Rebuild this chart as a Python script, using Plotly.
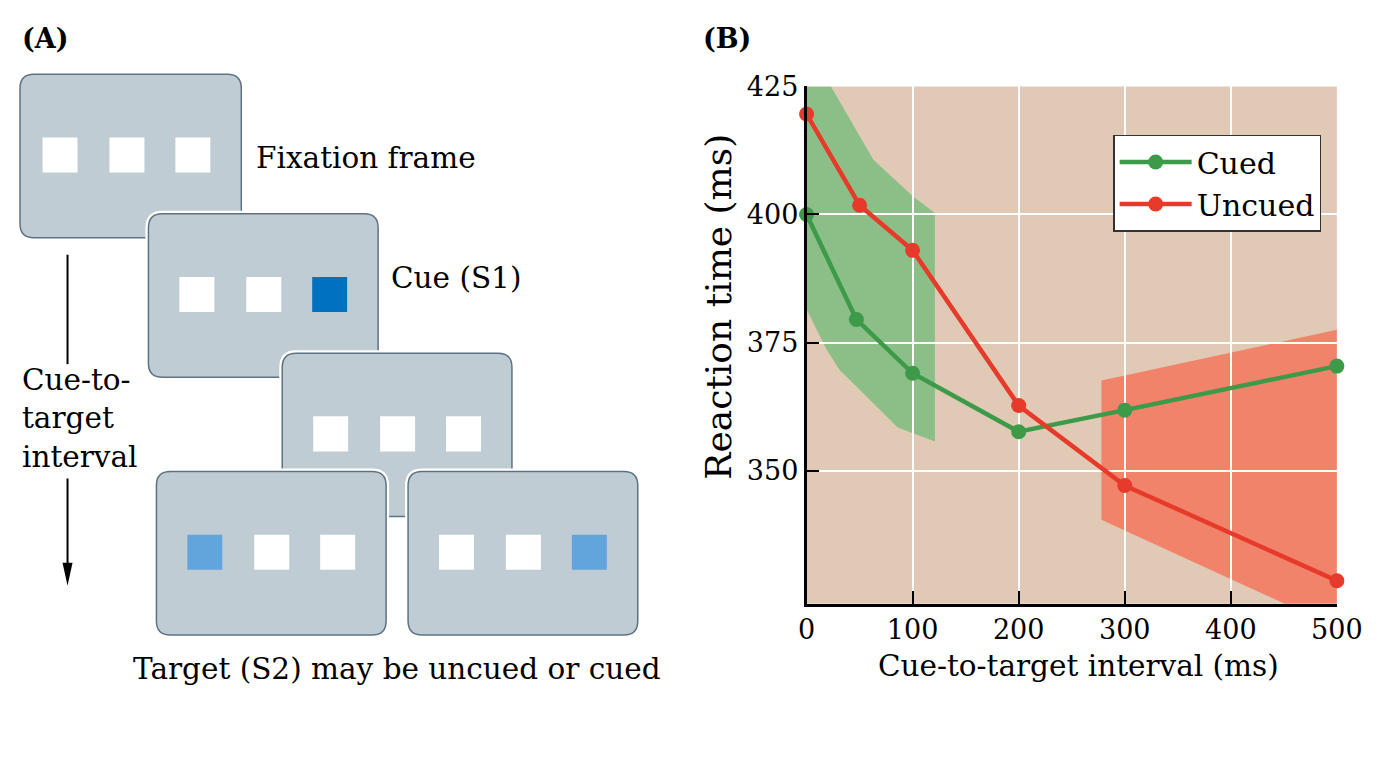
import plotly.graph_objects as go

# ---------------- data (panel B) ----------------
cued_x = [0, 47, 100, 200, 300, 500]
cued_y = [400, 379.5, 369, 357.6, 361.8, 370.4]
uncued_x = [0, 50, 100, 200, 300, 500]
uncued_y = [419.6, 401.8, 393, 362.7, 347.1, 328.5]

cued_band_x = [0, 23, 63, 100, 121, 121, 86, 31, 19, 0]
cued_band_y = [425, 425, 410.7, 403.6, 400.3, 355.7, 358.4, 369.7, 373.6, 381.5]
uncued_band_x = [278, 500, 500, 451, 300, 278]
uncued_band_y = [367.6, 377.5, 324, 324, 338.3, 340.4]

x_ticks = [0, 100, 200, 300, 400, 500]
y_ticks = [350, 375, 400, 425]

# ---------------- styles ----------------
FONT = "DejaVu Serif"
GREEN = "#3C9A48"
RED = "#E63B2B"
GREEN_FILL = "#8CBF87"
RED_FILL = "#F1836B"
TAN = "#E0CAB5"
FRAME_FILL = "#C0CCD4"
FRAME_LINE = "#5E7381"
CUE_BLUE = "#0070C0"
TARGET_BLUE = "#62A4DC"

# figure size and calibration (screen pixel -> figure pixel)
W, H = 1384, 753
AX, AY, K = 15.4, 24.8, 0.976


def fx_(v):
    return (v - AX) / K


def fy_(v):
    return (v - AY) / K


def px(v):
    return fx_(v) / W


def py(v):
    return 1 - fy_(v) / H


PLOT_RIGHT_F = 1354.1  # keep the right end of the x axis at this figure pixel

fig = go.Figure()

fig.add_trace(go.Scatter(
    x=cued_x, y=cued_y, mode="lines+markers", name="Cued",
    line=dict(color=GREEN, width=4.5), marker=dict(color=GREEN, size=15),
    cliponaxis=False))
fig.add_trace(go.Scatter(
    x=uncued_x, y=uncued_y, mode="lines+markers", name="Uncued",
    line=dict(color=RED, width=4.5), marker=dict(color=RED, size=15),
    cliponaxis=False))
# dummy trace to instantiate panel A axes
fig.add_trace(go.Scatter(x=[None], y=[None], xaxis="x2", yaxis="y2",
                         showlegend=False, hoverinfo="skip"))


def poly_path(xs, ys):
    pts = " L ".join(f"{x},{y}" for x, y in zip(xs, ys))
    return "M " + pts + " Z"


shapes = []
# plot background of panel B
shapes.append(dict(type="rect", xref="x domain", yref="y domain", layer="below",
                   x0=0, x1=1, y0=0, y1=1, fillcolor=TAN, line=dict(width=0)))
# confidence bands (below gridlines)
shapes.append(dict(type="path", xref="x", yref="y", layer="below",
                   path=poly_path(cued_band_x, cued_band_y),
                   fillcolor=GREEN_FILL, line=dict(width=0)))
shapes.append(dict(type="path", xref="x", yref="y", layer="below",
                   path=poly_path(uncued_band_x, uncued_band_y),
                   fillcolor=RED_FILL, line=dict(width=0)))


# ---------------- panel A diagram ----------------
def rr_path(x0, y0, x1, y1, r):
    return (f"M {x0+r},{y0} L {x1-r},{y0} Q {x1},{y0} {x1},{y0+r} "
            f"L {x1},{y1-r} Q {x1},{y1} {x1-r},{y1} L {x0+r},{y1} "
            f"Q {x0},{y1} {x0},{y1-r} L {x0},{y0+r} Q {x0},{y0} {x0+r},{y0} Z")


FW, FH = 230, 163
frames = [
    ((10, 75), ["white", "white", "white"]),
    ((147, 214), ["white", "white", CUE_BLUE]),
    ((281, 353), ["white", "white", "white"]),
    ((155, 471), [TARGET_BLUE, "white", "white"]),
    ((407, 471), ["white", "white", TARGET_BLUE]),
]
sq_off = [31, 98, 164]
SQ = 35
for (fx, fy), cols in frames:
    left = max(fx, AX + 3)
    p = rr_path(left, fy, fx + FW, fy + FH, 14)
    shapes.append(dict(type="path", xref="x2", yref="y2", path=p,
                       fillcolor="rgba(0,0,0,0)", line=dict(color="white", width=6)))
    shapes.append(dict(type="path", xref="x2", yref="y2", path=p,
                       fillcolor=FRAME_FILL, line=dict(color=FRAME_LINE, width=1.5)))
    for off, c in zip(sq_off, cols):
        shapes.append(dict(type="rect", xref="x2", yref="y2",
                           x0=fx + off, x1=fx + off + SQ, y0=fy + 63, y1=fy + 63 + SQ,
                           fillcolor=c, line=dict(width=0)))

# arrow
shapes.append(dict(type="line", xref="x2", yref="y2", x0=66, x1=66, y0=255, y1=364,
                   line=dict(color="black", width=2)))
shapes.append(dict(type="line", xref="x2", yref="y2", x0=66, x1=66, y0=478, y1=570,
                   line=dict(color="black", width=2)))
shapes.append(dict(type="path", xref="x2", yref="y2",
                   path="M 61,562 L 71,562 L 66,585 Z",
                   fillcolor="black", line=dict(width=0)))

txt = dict(family=FONT, size=29.5, color="black")
top_label_y = AY + K * 15
annotations = [
    dict(text="<b>(A)</b>", x=AX + 3, y=top_label_y, xref="x2", yref="y2", xanchor="left",
         yanchor="middle", showarrow=False, font=dict(family=FONT, size=27, color="black")),
    dict(text="<b>(B)</b>", x=px(700), y=py(top_label_y), xref="paper", yref="paper",
         xanchor="left", yanchor="middle", showarrow=False,
         font=dict(family=FONT, size=27, color="black")),
    dict(text="Fixation frame", x=253, y=158, xref="x2", yref="y2", xanchor="left",
         yanchor="middle", showarrow=False, font=txt),
    dict(text="Cue (S1)", x=388, y=278, xref="x2", yref="y2", xanchor="left",
         yanchor="middle", showarrow=False, font=txt),
    dict(text="Cue-to-<br>target<br>interval", x=AX + 3, y=418, xref="x2", yref="y2",
         xanchor="left", yanchor="middle", align="left", showarrow=False, font=txt),
    dict(text="Target (S2) may be uncued or cued", x=396, y=668, xref="x2", yref="y2",
         xanchor="center", yanchor="middle", showarrow=False, font=txt),
    # axis titles of panel B
    dict(text="Cue-to-target interval (ms)", x=px(1078), y=py(665), xref="paper",
         yref="paper", xanchor="center", yanchor="middle", showarrow=False, font=txt),
    dict(text="Reaction time (ms)", x=px(718), y=py(307), xref="paper",
         yref="paper", xanchor="center", yanchor="middle", textangle=-90,
         showarrow=False, font=dict(family=FONT, size=36, color="black")),
]

fig.update_layout(
    width=W, height=H,
    margin=dict(l=0, r=0, t=0, b=0),
    paper_bgcolor="white",
    plot_bgcolor="white",
    font=dict(family=FONT, color="black"),
    xaxis=dict(domain=[px(806), PLOT_RIGHT_F / W], range=[0, 500], tickvals=x_ticks,
               showgrid=True, gridcolor="white", gridwidth=2, zeroline=False,
               showline=True, linecolor="black", linewidth=2.5,
               ticks="inside", ticklen=13, tickwidth=2, tickcolor="black",
               tickfont=dict(family=FONT, size=27, color="black"), fixedrange=True),
    yaxis=dict(domain=[py(603), py(87)], range=[324, 425], tickvals=y_ticks,
               showgrid=True, gridcolor="white", gridwidth=2, zeroline=False,
               showline=True, linecolor="black", linewidth=2.5,
               ticks="inside", ticklen=13, tickwidth=2, tickcolor="black",
               tickfont=dict(family=FONT, size=27, color="black"), fixedrange=True),
    xaxis2=dict(domain=[0, px(668)], range=[AX, 668], visible=False, fixedrange=True),
    yaxis2=dict(domain=[0, 1], range=[AY + K * H, AY], visible=False, fixedrange=True),
    legend=dict(x=px(1113), y=py(135), xanchor="left", yanchor="top",
                bgcolor="white", bordercolor="#333333", borderwidth=1.5,
                font=dict(family=FONT, size=30, color="black"), itemwidth=72,
                tracegroupgap=0),
    shapes=shapes,
    annotations=annotations,
    showlegend=True,
)

fig.write_html("out.html")
